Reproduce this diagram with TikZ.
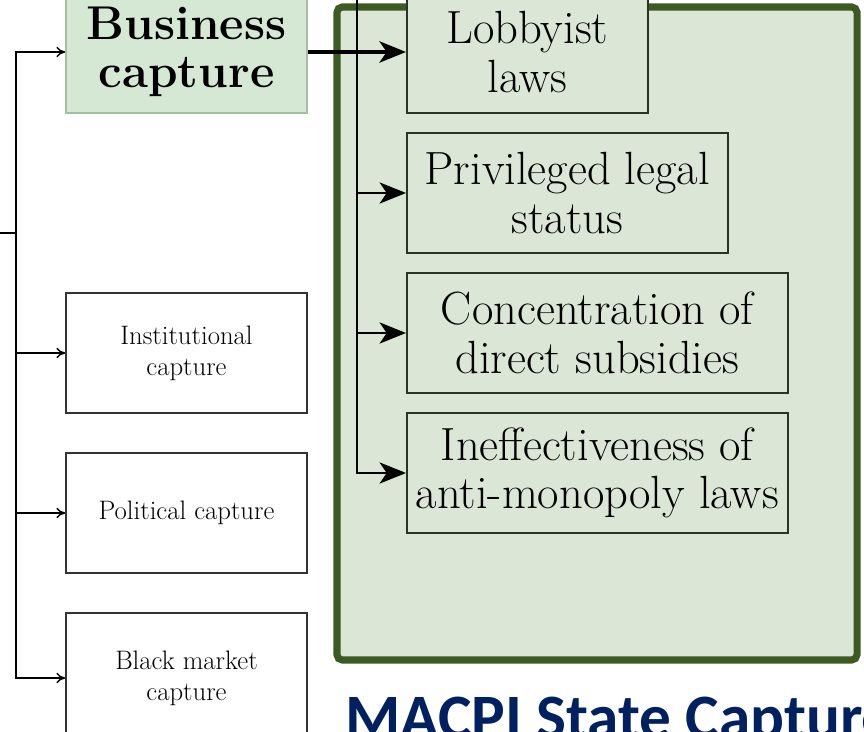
\documentclass[tikz,border=0pt]{standalone}
\usepackage{fontspec}
\newfontfamily\titlefont{Carlito}
\usetikzlibrary{arrows,arrows.meta}

\definecolor{busfill}{HTML}{D5E8D4}
\definecolor{busborder}{HTML}{A3BFA0}
\definecolor{framefill}{HTML}{DCE6D6}
\definecolor{framegreen}{HTML}{3D5A22}
\definecolor{lawborder}{HTML}{2B3322}
\definecolor{titleblue}{HTML}{002060}

\begin{document}
\begin{tikzpicture}[x=0.02cm,y=-0.02cm,>=stealth',
  capture node/.style={draw=black!80,fill=white,line width=0.9pt,minimum width=4.82cm,minimum height=2.4cm,
    align=center,font=\fontsize{15.2}{17.5}\selectfont},
  law node/.style={draw=lawborder,fill=framefill,line width=0.9pt,minimum height=2.4cm,anchor=west,
    align=center,inner sep=2pt,font=\fontsize{26.5}{27.5}\selectfont},
  thin arrow/.style={-{To[length=5pt,width=6pt]},line width=0.8pt},
  law arrow/.style={-{Stealth[length=15pt,width=12pt,inset=4pt]},line width=1.6pt}]

  \useasboundingbox (0,0) rectangle (864,732);
  \clip (0,0) rectangle (864,732);

  % highlighted MACPI region
  \draw[draw=framegreen,line width=4pt,fill=framefill,rounded corners=3pt] (337,7) rectangle (857,660);

  % left column
  \node[capture node,fill=busfill,draw=busborder,minimum height=2.44cm,
    font=\bfseries\fontsize{27}{27}\selectfont] (bus) at (186.5,52) {Business\\capture};
  \node[capture node] (inst) at (186.5,353) {Institutional\\capture};
  \node[capture node] (pol) at (186.5,513) {Political capture};
  \node[capture node,minimum height=2.6cm] (black) at (186.5,678) {Black market\\capture};

  % right column
  \node[law node,minimum width=4.82cm,minimum height=2.44cm] (lob) at (406,52) {Lobbyist\\laws};
  \node[law node,minimum width=6.42cm] (priv) at (406,193) {Privileged legal\\status};
  \node[law node,minimum width=7.62cm] (conc) at (406,333) {Concentration of\\direct subsidies};
  \node[law node,minimum width=7.62cm] (ineff) at (406,473) {Ineffectiveness of\\anti-monopoly laws};

  \coordinate (leftin) at (-5,233);
  \coordinate (lefttrunk) at (16,233);
  \coordinate (righttrunk) at (357,-10);

  \draw[line width=0.8pt] (leftin) -- (lefttrunk);
  \draw[thin arrow] (lefttrunk) |- (bus.west);
  \draw[thin arrow] (lefttrunk) |- (inst.west);
  \draw[thin arrow] (lefttrunk) |- (pol.west);
  \draw[thin arrow] (lefttrunk) |- (black.west);

  \draw[line width=2.6pt,-{Stealth[length=15pt,width=12pt,inset=4pt]}] (bus.east) -- (lob.west);
  \draw[law arrow] (righttrunk) |- (priv.west);
  \draw[law arrow] (righttrunk) |- (conc.west);
  \draw[law arrow] (righttrunk) |- (ineff.west);

  \node[anchor=base west,inner sep=0pt,text=titleblue,
    font=\titlefont\bfseries\fontsize{36}{42}\selectfont] (title) at (345,738) {MACPI State Capture};

\end{tikzpicture}
\end{document}
